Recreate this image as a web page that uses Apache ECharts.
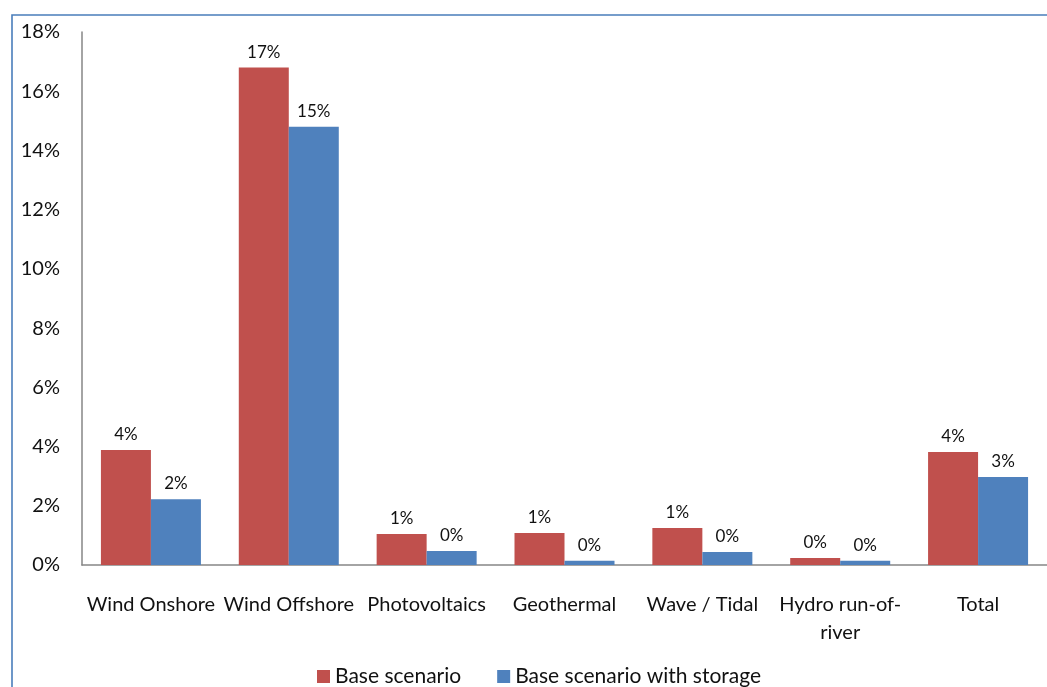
<!DOCTYPE html>
<html>
<head>
<meta charset="utf-8">
<script src="https://cdn.jsdelivr.net/npm/echarts@6/dist/echarts.min.js"></script>
<style>
  html, body { margin: 0; padding: 0; background: #fff; }
  #chart { width: 1047px; height: 687px; }
</style>
</head>
<body>
<div id="chart"></div>
<script>
// Share of curtailed generation by technology (%)
const categories = ['Wind Onshore', 'Wind Offshore', 'Photovoltaics', 'Geothermal', 'Wave / Tidal', 'Hydro run-of-river', 'Total'];
const baseScenario = [3.88, 16.8, 1.05, 1.08, 1.25, 0.24, 3.82];
const baseWithStorage = [2.22, 14.8, 0.47, 0.14, 0.44, 0.14, 2.97];
const seriesNames = ['Base scenario', 'Base scenario with storage'];

const FONT = 'Lato, "Open Sans", sans-serif';

const chart = echarts.init(document.getElementById('chart'), null, { renderer: 'canvas' });

const labelStyle = {
  show: true,
  position: 'top',
  distance: 7,
  color: '#111',
  fontFamily: FONT,
  fontSize: 17,
  formatter: p => Math.round(p.value) + '%'
};

chart.setOption({
  animation: false,
  backgroundColor: '#fff',
  graphic: [{
    type: 'rect',
    shape: { x: 12, y: 15, width: 1060, height: 700 },
    style: { fill: 'none', stroke: '#4a7ebb', lineWidth: 1.6 },
    silent: true,
    z: 0
  }],
  grid: { left: 82, width: 967, top: 32, bottom: 122, containLabel: false },
  legend: {
    data: seriesNames,
    bottom: -5,
    left: 312,
    itemWidth: 13,
    itemHeight: 13,
    itemGap: 36,
    textStyle: { fontFamily: FONT, fontSize: 21, color: '#111' },
    icon: 'rect'
  },
  xAxis: {
    type: 'category',
    data: categories,
    axisLine: { lineStyle: { color: '#868686', width: 1.5 } },
    axisTick: { show: false },
    axisLabel: {
      interval: 0,
      margin: 26,
      color: '#111',
      fontFamily: FONT,
      fontSize: 20,
      lineHeight: 28,
      formatter: v => v === 'Hydro run-of-river' ? 'Hydro run-of-\nriver' : v
    }
  },
  yAxis: {
    type: 'value',
    min: 0,
    max: 18,
    interval: 2,
    axisLine: { show: true, lineStyle: { color: '#868686', width: 1.5 } },
    axisTick: { show: false },
    splitLine: { show: false },
    axisLabel: {
      margin: 22,
      color: '#111',
      fontFamily: FONT,
      fontSize: 20,
      formatter: v => v + '%'
    }
  },
  series: [
    {
      name: seriesNames[0],
      type: 'bar',
      data: baseScenario,
      barWidth: 50,
      barGap: '0%',
      itemStyle: { color: '#c0504d' },
      label: labelStyle
    },
    {
      name: seriesNames[1],
      type: 'bar',
      data: baseWithStorage,
      barWidth: 50,
      barGap: '0%',
      itemStyle: { color: '#4f81bd' },
      label: labelStyle
    }
  ]
});
</script>
</body>
</html>
